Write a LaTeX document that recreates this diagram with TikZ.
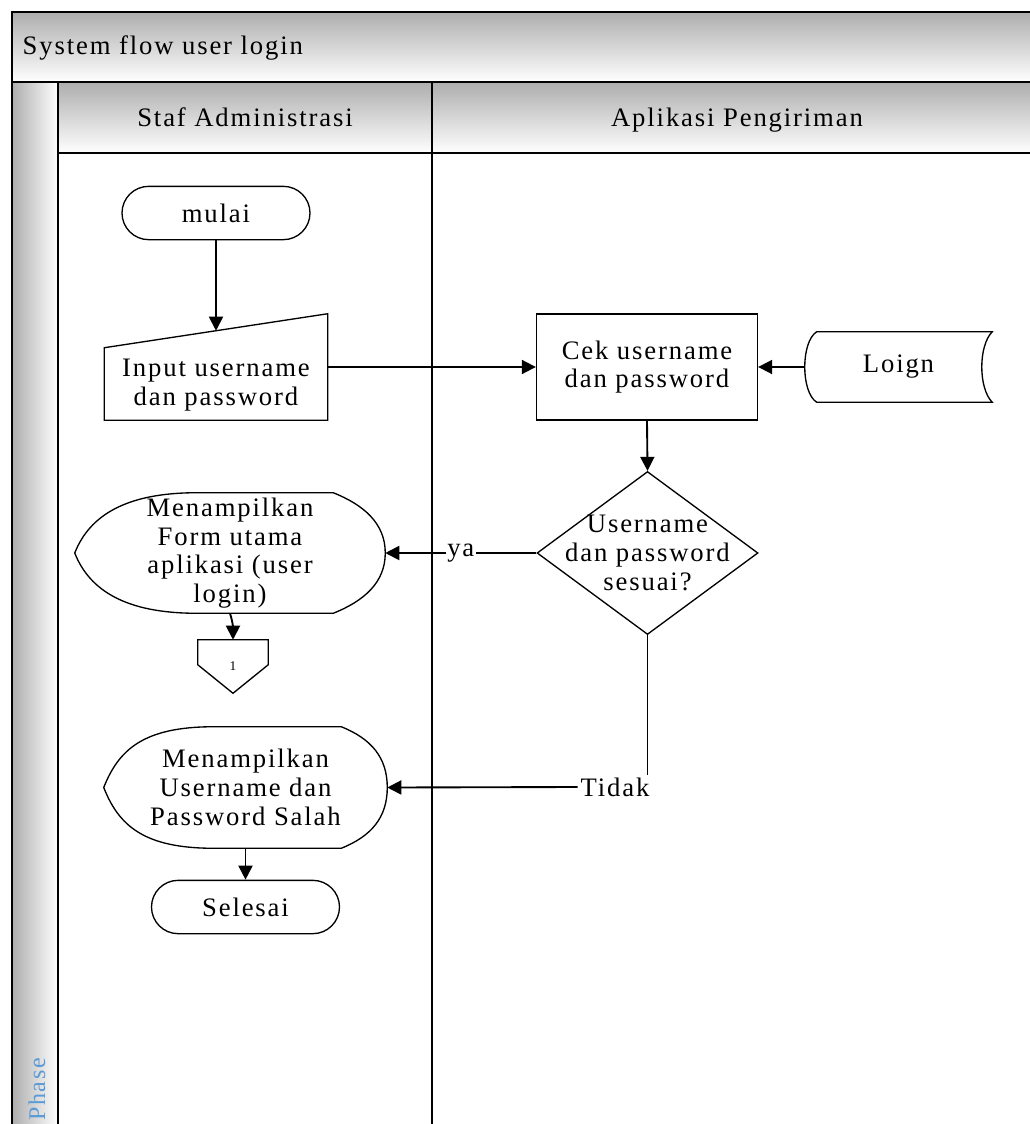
\documentclass[tikz,border=0pt]{standalone}
\usepackage{fontspec}
\setmainfont{Liberation Serif}[LetterSpace=7]
\usetikzlibrary{arrows.meta,shapes.geometric,calc}

\definecolor{phaseblue}{RGB}{91,155,213}

% outline of a display symbol around node #1 (#2 = left part, #3 = right part)
\newcommand{\dispoutline}[3]{%
  \draw[outline] (#1.west) .. controls +(15,-38) and +(-70,0) .. ($(#1.north west)+(#2,0)$)
    -- ($(#1.north east)+(-#3,0)$) .. controls +(30,12) and +(0,-30) .. (#1.east)
    .. controls +(0,30) and +(30,-12) .. ($(#1.south east)+(-#3,0)$)
    -- ($(#1.south west)+(#2,0)$) .. controls +(-70,0) and +(15,38) .. (#1.west);}

\begin{document}
\begin{tikzpicture}[x=0.75pt,y=-0.75pt,
        every node/.style={font=\fontsize{20}{21.5}\selectfont, align=center},
        frame/.style={line width=1.5pt},
        outline/.style={draw, line width=1pt},
        flow/.style={line width=1.4pt, -{Triangle[length=10.5pt,width=10.5pt]}},
        term/.style={draw, line width=1pt, rounded corners=20pt,
            minimum width=141pt, minimum height=40pt},
        box/.style={draw, line width=1pt, minimum width=165.75pt, minimum height=79.5pt}
    ]
    \useasboundingbox (0,0) rectangle (1030,1124);
    \clip (0,0) rectangle (1030,1124);

    % swimlane frame
    \shade[top color=black!32, bottom color=white] (12,12) rectangle (1030,82);
    \shade[top color=black!32, bottom color=white] (58,82) rectangle (1030,153);
    \shade[left color=black!32, right color=white] (12,82) rectangle (58,1124);
    \draw[frame] (1030,12) -- (12,12) -- (12,1124);
    \draw[frame] (12,82) -- (1030,82);
    \draw[frame] (58,82) -- (58,1124);
    \draw[frame] (58,153) -- (1030,153);
    \draw[frame] (432,82) -- (432,1124);

    \node[anchor=base west] (title) at (18,55) {System flow user login};
    \node[anchor=base] (lane1) at (245,126) {Staf Administrasi};
    \node[anchor=base] (lane2) at (737,126) {Aplikasi Pengiriman};
    \node[rotate=90, anchor=west, inner sep=0pt, text=phaseblue, font=\fontsize{18}{18}\selectfont]
        (phase) at (37,1121) {Phase};

    % symbols
    \node (mulai) at (216,213) [term] {mulai};

    \node (input) at (216,367) [minimum width=167.25pt, minimum height=79.5pt] {};
    \node (inputtxt) at (216,385) {Input username\\dan password};
    \draw[outline] (input.south west) -- ($(input.north west)+(0,34)$) -- (input.north east)
        -- (input.south east) -- cycle;

    \node (cek) at (647,367) [box] {Cek username\\dan password};

    \node (loign) at (898.5,367) [minimum width=140.25pt, minimum height=52.5pt] {Loign};
    \draw[outline] ($(loign.north west)+(12,0)$) -- (loign.north east)
        .. controls +(-14,14) and +(-14,-14) .. (loign.south east)
        -- ($(loign.south west)+(12,0)$)
        .. controls +(-16,-10) and +(-16,10) .. ($(loign.north west)+(12,0)$);

    \node (cond) at (647.5,553) [diamond, draw, line width=1pt, inner sep=0pt,
        minimum width=165.75pt, minimum height=122.25pt] {};
    \node (condtxt) at (647.5,553) {Username\\dan password\\sesuai?};

    \node (form) at (230,553) [minimum width=232.5pt, minimum height=90pt, inner sep=0pt]
        {Menampilkan\\Form utama\\aplikasi (user\\login)};
    \dispoutline{form}{122}{52}

    \node (conn) at (233,666.5) [minimum width=52.5pt, minimum height=39.75pt, inner sep=0pt,
        font=\fontsize{10}{10}\selectfont] {1};
    \draw[outline] (conn.north west) -- (conn.north east) -- ($(conn.north east)+(0,25)$)
        -- (conn.south) -- ($(conn.north west)+(0,25)$) -- cycle;

    \node (salah) at (245.5,787.5) [minimum width=212.25pt, minimum height=90.75pt, inner sep=0pt]
        {Menampilkan\\Username dan\\Password Salah};
    \dispoutline{salah}{110}{46}

    \node (selesai) at (245.5,907) [term] {Selesai};

    \node (tidak) at (615,787) [inner sep=2pt] {Tidak};

    % connectors
    \draw[flow] (mulai.south) -- ($(input.north)+(0,17)$);
    \draw[flow] (input.east) -- (cek.west);
    \draw[flow] (loign.west) -- (cek.east);
    \draw[flow] (cek.south) -- (cond.north);
    \draw[flow] (cond.west) -- node[fill=white, inner sep=1pt] (ya) {ya} (form.east);
    \draw[line width=1.4pt] (cond.south) -- (cond.south |- tidak.north);
    \draw[flow] (tidak.west) -- (salah.east);
    \draw[flow] (form.south) .. controls +(3,10) and +(0,-12) .. (conn.north);
    \draw[flow] (salah.south) -- (selesai.north);

\end{tikzpicture}
\end{document}
